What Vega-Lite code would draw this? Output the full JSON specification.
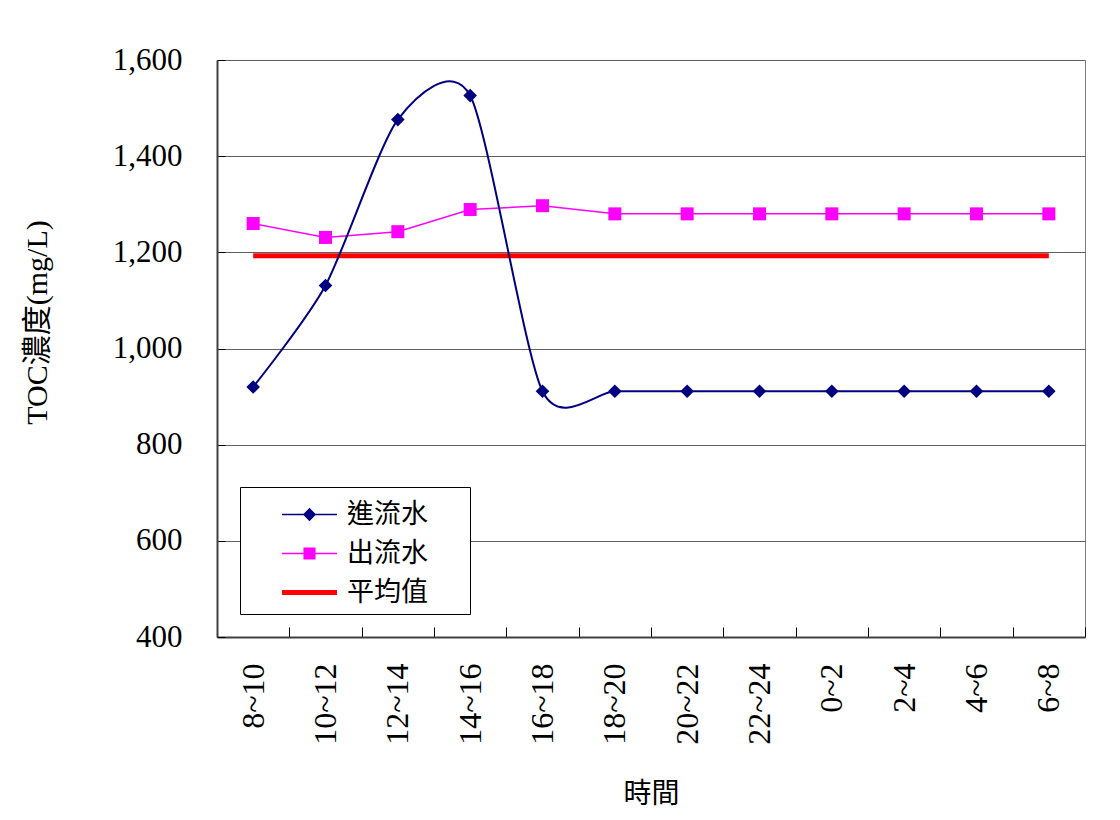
{
  "$schema": "https://vega.github.io/schema/vega-lite/v6.json",
  "width": 868,
  "height": 577,
  "autosize": {"type": "none"},
  "padding": {"left": 217, "top": 60, "right": 35, "bottom": 183},
  "background": "white",
  "config": {
    "view": {"stroke": "#808080", "strokeWidth": 1},
    "font": "Liberation Serif",
    "axis": {"labelFont": "Liberation Serif", "titleFont": "Liberation Serif, Noto Sans CJK TC", "titleFontWeight": "normal", "labelColor": "#000", "titleColor": "#000"},
    "legend": {
      "orient": "bottom-left",
      "offset": 23,
      "padding": 8,
      "fillColor": "white",
      "strokeColor": "#000",
      "symbolSize": 1521,
      "symbolOffset": 42,
      "symbolOpacity": 1,
      "symbolStrokeWidth": 0,
      "labelOffset": 18,
      "labelFont": "Noto Sans CJK TC",
      "labelFontSize": 27,
      "labelColor": "#000",
      "rowPadding": 6,
      "labelLimit": 300,
      "titleOrient": "right",
      "titleFontSize": 10,
      "titlePadding": 34
    }
  },
  "data": {
    "values": [
      {"time": "8~10", "series": "進流水", "value": 920},
      {"time": "10~12", "series": "進流水", "value": 1131},
      {"time": "12~14", "series": "進流水", "value": 1476},
      {"time": "14~16", "series": "進流水", "value": 1526},
      {"time": "16~18", "series": "進流水", "value": 911},
      {"time": "18~20", "series": "進流水", "value": 911},
      {"time": "20~22", "series": "進流水", "value": 911},
      {"time": "22~24", "series": "進流水", "value": 911},
      {"time": "0~2", "series": "進流水", "value": 911},
      {"time": "2~4", "series": "進流水", "value": 911},
      {"time": "4~6", "series": "進流水", "value": 911},
      {"time": "6~8", "series": "進流水", "value": 911},
      {"time": "8~10", "series": "出流水", "value": 1260},
      {"time": "10~12", "series": "出流水", "value": 1231},
      {"time": "12~14", "series": "出流水", "value": 1243},
      {"time": "14~16", "series": "出流水", "value": 1289},
      {"time": "16~18", "series": "出流水", "value": 1297},
      {"time": "18~20", "series": "出流水", "value": 1280},
      {"time": "20~22", "series": "出流水", "value": 1280},
      {"time": "22~24", "series": "出流水", "value": 1280},
      {"time": "0~2", "series": "出流水", "value": 1280},
      {"time": "2~4", "series": "出流水", "value": 1280},
      {"time": "4~6", "series": "出流水", "value": 1280},
      {"time": "6~8", "series": "出流水", "value": 1280},
      {"time": "8~10", "series": "平均值", "value": 1193},
      {"time": "10~12", "series": "平均值", "value": 1193},
      {"time": "12~14", "series": "平均值", "value": 1193},
      {"time": "14~16", "series": "平均值", "value": 1193},
      {"time": "16~18", "series": "平均值", "value": 1193},
      {"time": "18~20", "series": "平均值", "value": 1193},
      {"time": "20~22", "series": "平均值", "value": 1193},
      {"time": "22~24", "series": "平均值", "value": 1193},
      {"time": "0~2", "series": "平均值", "value": 1193},
      {"time": "2~4", "series": "平均值", "value": 1193},
      {"time": "4~6", "series": "平均值", "value": 1193},
      {"time": "6~8", "series": "平均值", "value": 1193}
    ]
  },
  "encoding": {
    "x": {
      "field": "time",
      "type": "nominal",
      "bandPosition": 0.5,
      "scale": {"type": "band", "paddingInner": 0, "paddingOuter": 0, "domain": ["8~10", "10~12", "12~14", "14~16", "16~18", "18~20", "20~22", "22~24", "0~2", "2~4", "4~6", "6~8"]},
      "axis": {
        "title": "時間",
        "titleFontSize": 28,
        "titlePadding": 36,
        "labelAngle": -90,
        "labelFontSize": 32,
        "labelPadding": 36,
        "tickBand": "extent",
        "tickSize": -10,
        "tickColor": "#000",
        "domainColor": "#404040",
        "domainWidth": 2,
        "grid": false
      }
    },
    "y": {
      "field": "value",
      "type": "quantitative",
      "scale": {"domain": [400, 1600], "nice": false, "zero": false},
      "axis": {
        "title": "TOC濃度(mg/L)",
        "titleFontSize": 30,
        "titlePadding": 60,
        "titleY": 262,
        "values": [400, 600, 800, 1000, 1200, 1400, 1600],
        "format": ",.0f",
        "labelFontSize": 31,
        "labelPadding": 43,
        "tickSize": -8,
        "tickColor": "#000",
        "domainColor": "#404040",
        "domainWidth": 2,
        "gridColor": "#606060",
        "gridWidth": 1
      }
    }
  },
  "layer": [
    {
      "transform": [{"filter": "datum.series === '平均值'"}],
      "mark": {"type": "line", "color": "#FF0000", "strokeWidth": 5, "interpolate": "linear"}
    },
    {
      "transform": [{"filter": "datum.series === '出流水'"}],
      "mark": {"type": "line", "color": "#FF00FF", "strokeWidth": 1.5, "interpolate": "linear"}
    },
    {
      "transform": [{"filter": "datum.series === '進流水'"}],
      "mark": {"type": "line", "color": "#000080", "strokeWidth": 2, "interpolate": "cardinal", "tension": 0.25}
    },
    {
      "transform": [{"filter": "datum.series === '出流水'"}],
      "mark": {"type": "point", "shape": "square", "filled": true, "color": "#FF00FF", "opacity": 1, "size": 169}
    },
    {
      "transform": [{"filter": "datum.series === '進流水'"}],
      "mark": {"type": "point", "shape": "diamond", "filled": true, "color": "#000080", "opacity": 1, "size": 185}
    },
    {
      "mark": {"type": "point", "filled": true, "opacity": 0, "size": 1},
      "encoding": {
        "color": {
          "field": "series",
          "type": "nominal",
          "scale": {"domain": ["進流水", "出流水", "平均值"], "range": ["#000080", "#FF00FF", "#FF0000"]},
          "legend": {"title": " "}
        },
        "shape": {
          "field": "series",
          "type": "nominal",
          "scale": {
            "domain": ["進流水", "出流水", "平均值"],
            "range": [
              "M-1.41,-0.04H-0.3L0,-0.34L0.3,-0.04H1.41V0.04H0.3L0,0.34L-0.3,0.04H-1.41Z",
              "M-1.41,-0.04H-0.31V-0.31H0.31V-0.04H1.41V0.04H0.31V0.31H-0.31V0.04H-1.41Z",
              "M-1.41,-0.13H1.41V0.13H-1.41Z"
            ]
          },
          "legend": {"title": " "}
        }
      }
    }
  ]
}
